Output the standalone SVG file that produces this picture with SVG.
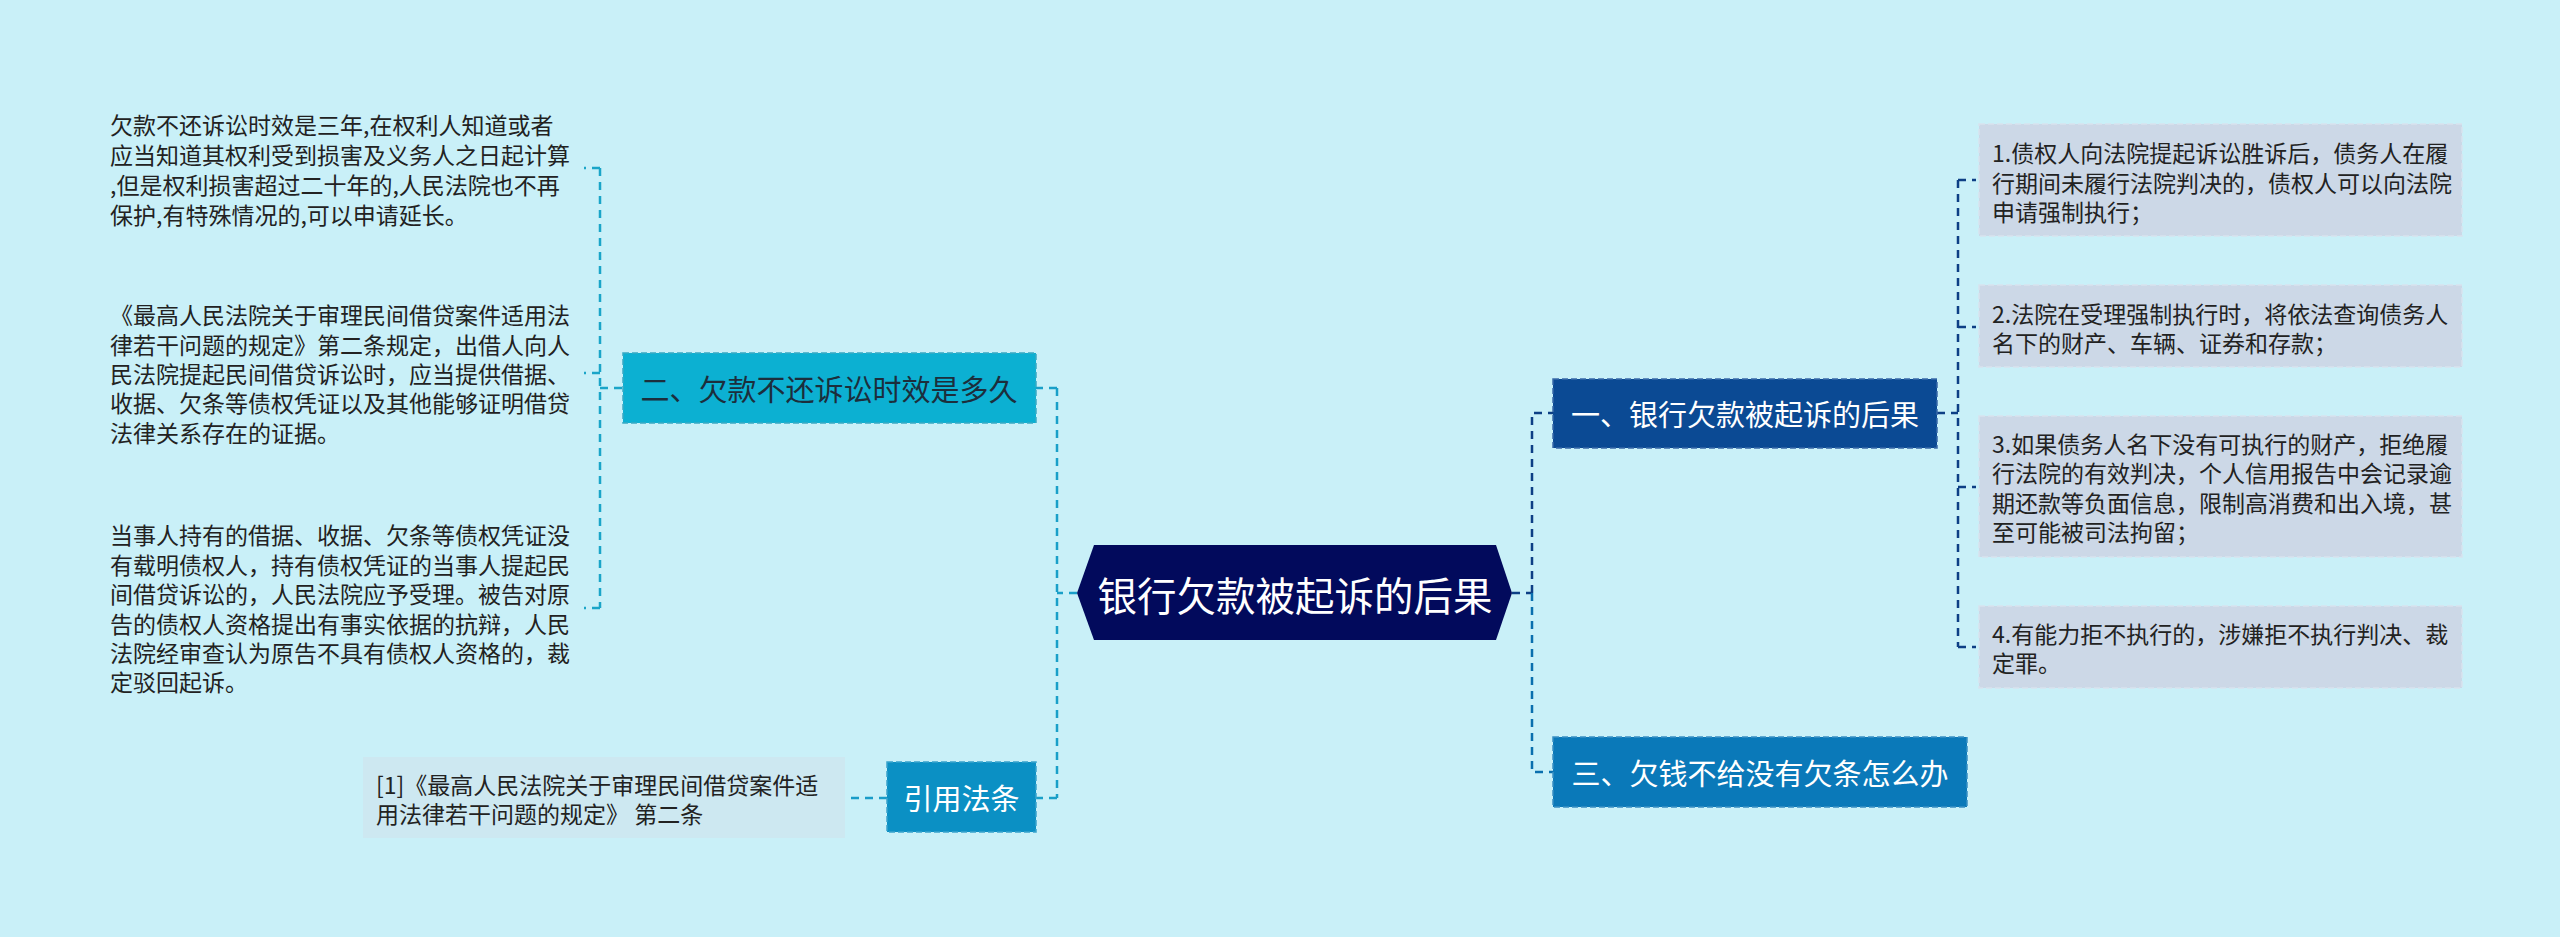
<svg xmlns="http://www.w3.org/2000/svg" width="2560" height="937" viewBox="0 0 2560 937">
<style>
text{font-family:"Noto Sans CJK SC","Noto Sans",sans-serif;}
.leaf{font-size:23px;fill:#222;dominant-baseline:central;}
.sub{font-size:29px;dominant-baseline:central;text-anchor:middle;}
.c{fill:none;stroke-width:2.5;stroke-dasharray:8 6;}
.nb{stroke-width:1.5;stroke-dasharray:6 3;}
.rl{fill:#ccd8e7;stroke:#d7e2ee;stroke-width:1.5;stroke-dasharray:6 3;}
</style>
<rect width="2560" height="937" fill="#c9f0f8"/>
<g id="connectors">
<path class="c" stroke="#1a9fc8" d="M1077 593H1057M1057 388V798M1057 388H1036M1057 798H1036"/>
<path class="c" stroke="#1aa5c8" d="M622 388H600M600 168V608M600 168H584M600 373H584M600 608H584"/>
<path class="c" stroke="#1a9cc8" d="M887 798H845"/>
<path class="c" stroke="#0d3f85" d="M1512 593H1532M1532 593V413H1553"/>
<path class="c" stroke="#0a6fae" d="M1532 593V772H1553"/>
<path class="c" stroke="#0d3f85" d="M1937 413H1958M1958 180V647M1958 180H1976M1958 327H1976M1958 487H1976M1958 647H1976"/>
</g>
<g id="center">
<polygon points="1077,593 1094,545 1496,545 1512,593 1496,640 1094,640" fill="#020a5c"/>
<text x="1295" y="593" font-size="39.5" fill="#fff" text-anchor="middle" dominant-baseline="central">银行欠款被起诉的后果</text>
</g>
<g id="node-er">
<rect class="nb" x="623" y="353" width="413" height="70" fill="#0cb0d2" stroke="#38a9c4"/>
<text class="sub" x="829" y="388" fill="#1c2e3c">二、欠款不还诉讼时效是多久</text>
</g>
<g id="node-yinyong">
<rect class="nb" x="887" y="762" width="149" height="70" fill="#0b90c4" stroke="#3aa3cc"/>
<text class="sub" x="961.5" y="797" fill="#fff">引用法条</text>
</g>
<g id="node-yi">
<rect class="nb" x="1553" y="379" width="384" height="69" fill="#0b4a94" stroke="#3a6aa8"/>
<text class="sub" x="1745" y="413" fill="#fff">一、银行欠款被起诉的后果</text>
</g>
<g id="node-san">
<rect class="nb" x="1553" y="737" width="414" height="70" fill="#0a79b9" stroke="#3a90c4"/>
<text class="sub" x="1760" y="772" fill="#fff">三、欠钱不给没有欠条怎么办</text>
</g>
<g id="leaf-l1">
<text class="leaf" x="110"><tspan x="110" y="124">欠款不还诉讼时效是三年,在权利人知道或者</tspan><tspan x="110" y="154">应当知道其权利受到损害及义务人之日起计算</tspan><tspan x="110" y="184">,但是权利损害超过二十年的,人民法院也不再</tspan><tspan x="110" y="214">保护,有特殊情况的,可以申请延长。</tspan></text>
</g>
<g id="leaf-l2">
<text class="leaf" x="110"><tspan x="110" y="314">《最高人民法院关于审理民间借贷案件适用法</tspan><tspan x="110" y="344">律若干问题的规定》第二条规定，出借人向人</tspan><tspan x="110" y="373">民法院提起民间借贷诉讼时，应当提供借据、</tspan><tspan x="110" y="402">收据、欠条等债权凭证以及其他能够证明借贷</tspan><tspan x="110" y="432">法律关系存在的证据。</tspan></text>
</g>
<g id="leaf-l3">
<text class="leaf" x="110"><tspan x="110" y="534">当事人持有的借据、收据、欠条等债权凭证没</tspan><tspan x="110" y="564">有载明债权人，持有债权凭证的当事人提起民</tspan><tspan x="110" y="593">间借贷诉讼的，人民法院应予受理。被告对原</tspan><tspan x="110" y="623">告的债权人资格提出有事实依据的抗辩，人民</tspan><tspan x="110" y="652">法院经审查认为原告不具有债权人资格的，裁</tspan><tspan x="110" y="681">定驳回起诉。</tspan></text>
</g>
<g id="leaf-cite">
<rect x="363" y="757" width="482" height="81" fill="#cde8f1"/>
<text class="leaf" x="376"><tspan x="376" y="784">[1]《最高人民法院关于审理民间借贷案件适</tspan><tspan x="376" y="813">用法律若干问题的规定》 第二条</tspan></text>
</g>
<g id="leaf-r1">
<rect class="rl" x="1979" y="124" width="483" height="112"/>
<text class="leaf" x="1992"><tspan x="1992" y="152">1.债权人向法院提起诉讼胜诉后，债务人在履</tspan><tspan x="1992" y="182">行期间未履行法院判决的，债权人可以向法院</tspan><tspan x="1992" y="211">申请强制执行；</tspan></text>
</g>
<g id="leaf-r2">
<rect class="rl" x="1979" y="285" width="483" height="82"/>
<text class="leaf" x="1992"><tspan x="1992" y="313">2.法院在受理强制执行时，将依法查询债务人</tspan><tspan x="1992" y="342">名下的财产、车辆、证券和存款；</tspan></text>
</g>
<g id="leaf-r3">
<rect class="rl" x="1979" y="416" width="483" height="141"/>
<text class="leaf" x="1992"><tspan x="1992" y="443">3.如果债务人名下没有可执行的财产，拒绝履</tspan><tspan x="1992" y="472">行法院的有效判决，个人信用报告中会记录逾</tspan><tspan x="1992" y="502">期还款等负面信息，限制高消费和出入境，甚</tspan><tspan x="1992" y="531">至可能被司法拘留；</tspan></text>
</g>
<g id="leaf-r4">
<rect class="rl" x="1979" y="606" width="483" height="82"/>
<text class="leaf" x="1992"><tspan x="1992" y="633">4.有能力拒不执行的，涉嫌拒不执行判决、裁</tspan><tspan x="1992" y="662">定罪。</tspan></text>
</g>
</svg>
